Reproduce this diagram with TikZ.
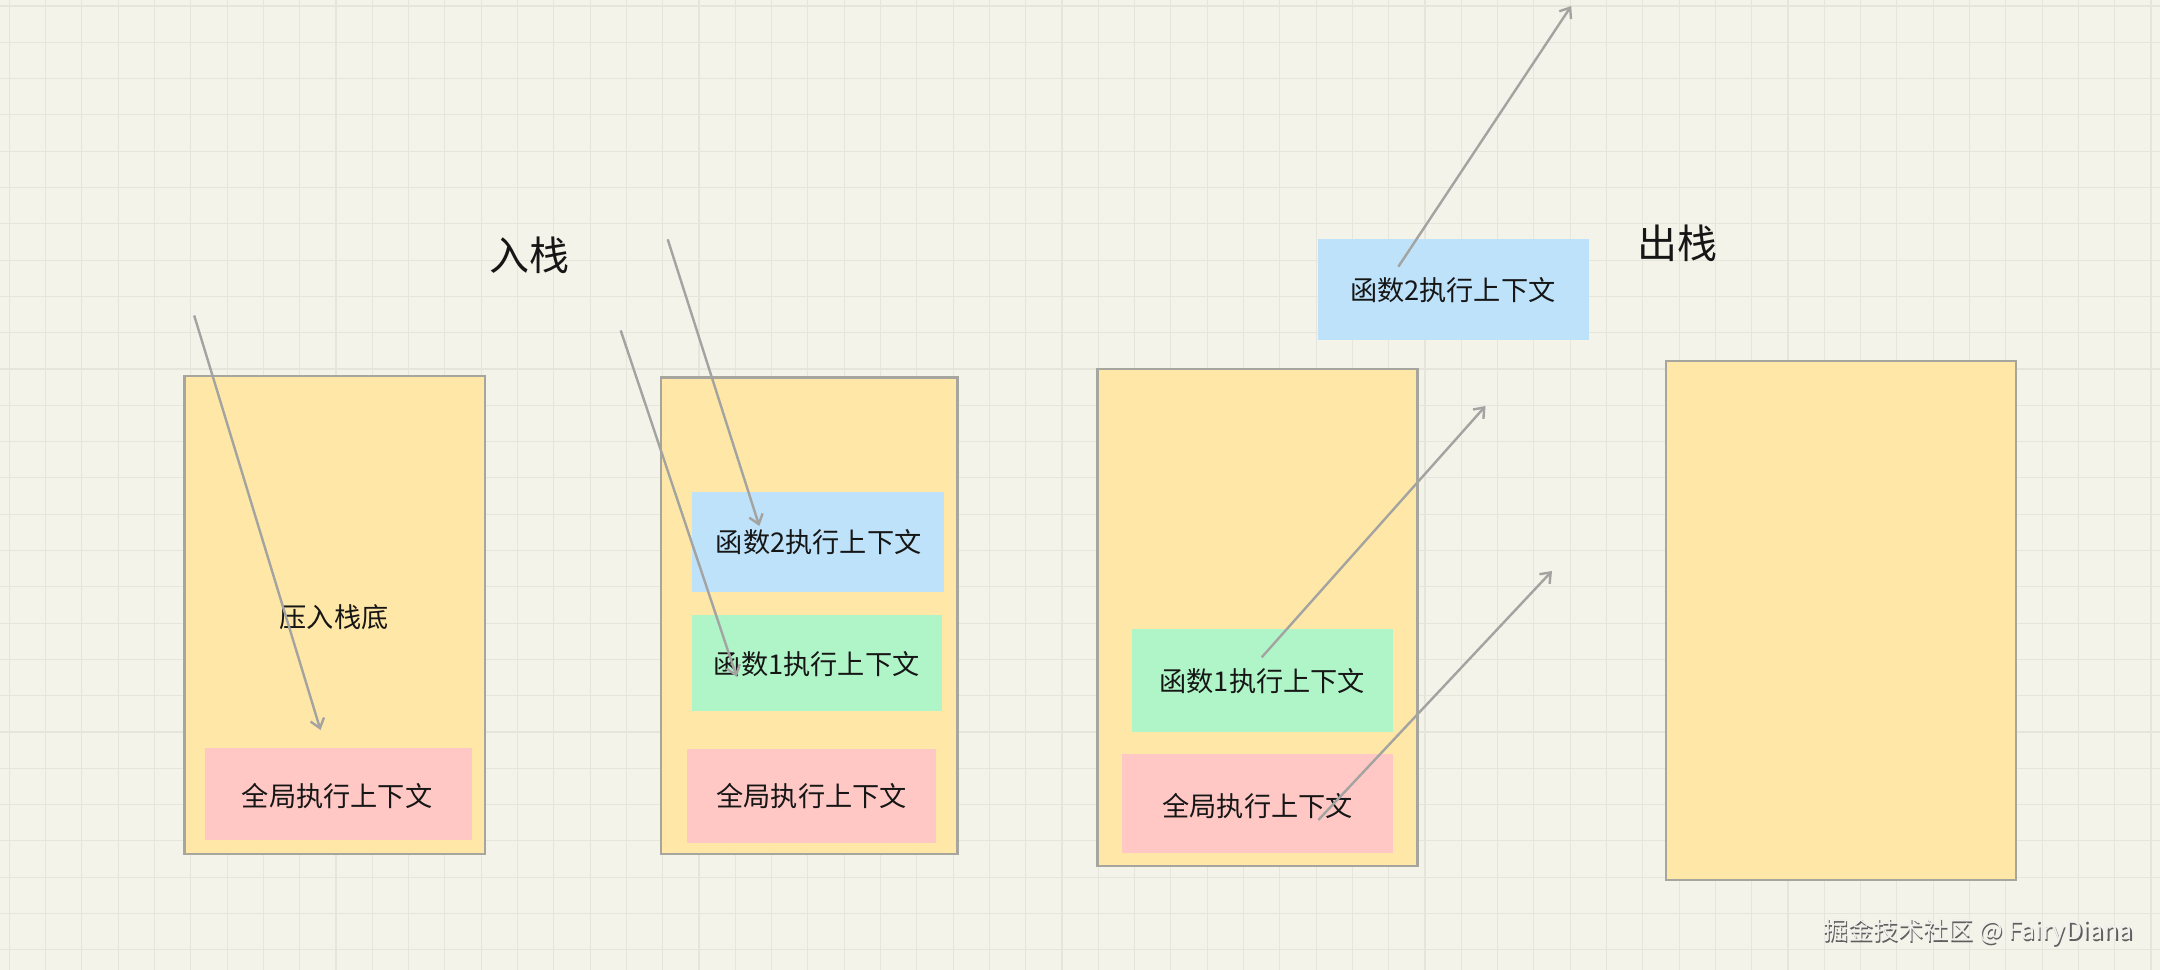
\documentclass[tikz,border=0pt]{standalone}
\usepackage{fontspec}
\setmainfont{Noto Sans CJK SC}
\usetikzlibrary{arrows.meta,fit}
\definecolor{bgc}{RGB}{244,243,233}
\definecolor{gridc}{RGB}{229,229,220}
\definecolor{stackc}{RGB}{255,232,167}
\definecolor{borderc}{RGB}{166,165,158}
\definecolor{pinkc}{RGB}{255,200,196}
\definecolor{bluec}{RGB}{190,226,250}
\definecolor{greenc}{RGB}{176,245,200}
\definecolor{arrowc}{RGB}{163,163,161}
\definecolor{txtc}{RGB}{22,22,22}
\definecolor{wmshadow}{RGB}{95,95,95}
\definecolor{wmfill}{RGB}{240,240,236}
\begin{document}
\begin{tikzpicture}[x=0.5pt,y=-0.5pt,
  gridline/.style={draw=gridc,line width=0.55pt},
  stackbox/.style={fill=stackc,draw=borderc,line width=1.4pt,inner sep=0pt},
  ctxbox/.style={inner sep=0pt,text=txtc,font=\fontsize{13.6pt}{16pt}\selectfont},
  pinkbox/.style={ctxbox,fill=pinkc},
  bluebox/.style={ctxbox,fill=bluec},
  greenbox/.style={ctxbox,fill=greenc},
  plain/.style={text=txtc,inner sep=0pt,font=\fontsize{13.6pt}{16pt}\selectfont},
  title/.style={text=txtc,inner sep=0pt,font=\fontsize{20pt}{24pt}\selectfont},
  wm/.style={inner sep=0pt,font=\fontsize{12.5pt}{15pt}\selectfont},
  pusharrow/.style={draw=arrowc,line width=1.2pt,-{Straight Barb[length=4.5pt,width=7pt]}}
]
\useasboundingbox (0,0) rectangle (2160,970);
\fill[bgc] (0,0) rectangle (2160,970);
\foreach \i in {0,...,59} \draw[gridline] ({9.3+36.3*\i},0) -- ({9.3+36.3*\i},970);
\foreach \j in {0,...,26} \draw[gridline] (0,{6+36.3*\j}) -- (2160,{6+36.3*\j});

% stack 1
\node[stackbox,fit={(184.6,376) (485,854)}] (s1) {};
\node[pinkbox,fit={(205,748) (472,840)}] (g1) {};
\node[plain] (g1t) at (337,796) {全局执行上下文};
\node[plain] (push) at (334,617) {压入栈底};
\node[title] (in) at (529,255) {入栈};

% stack 2
\node[stackbox,fit={(661,377.5) (957.5,854)}] (s2) {};
\node[bluebox,fit={(692.3,492.4) (944.3,591.5)}] (b2) {};
\node[plain] (b2t) at (818.7,542.5) {函数2执行上下文};
\node[greenbox,fit={(692.3,615) (941.7,711)}] (f2) {};
\node[plain] (f2t) at (816.7,664) {函数1执行上下文};
\node[pinkbox,fit={(687.3,749) (935.7,843)}] (g2) {};
\node[plain] (g2t) at (811.7,796) {全局执行上下文};

% stack 3
\node[stackbox,fit={(1097.5,369) (1417.5,866)}] (s3) {};
\node[greenbox,fit={(1131.7,629) (1393.3,731.7)}] (f3) {};
\node[plain] (f3t) at (1262.3,681) {函数1执行上下文};
\node[pinkbox,fit={(1121.7,754) (1393.3,853.3)}] (g3) {};
\node[plain] (g3t) at (1257.7,806) {全局执行上下文};
\node[bluebox,fit={(1318,239.3) (1588.8,340)}] (b3) {};
\node[plain] (b3t) at (1452.8,290) {函数2执行上下文};
\node[title] (out) at (1677,243) {出栈};

% stack 4
\node[stackbox,fit={(1666,361) (2016,880)}] (s4) {};

% arrows
\coordinate (a1s) at (194.2,315.5);
\coordinate (a1e) at (320.5,730);
\coordinate (a2s) at (667.7,239.3);
\coordinate (a2e) at (759.3,526);
\coordinate (a3s) at (620.7,330.4);
\coordinate (a3e) at (736.7,676.8);
\coordinate (a4s) at (1261.7,657.3);
\coordinate (a4e) at (1485.5,406);
\coordinate (a5s) at (1318.3,820);
\coordinate (a5e) at (1552,571);
\coordinate (a6s) at (1398.3,266.7);
\coordinate (a6e) at (1571.2,6);
\draw[pusharrow] (a1s) -- (a1e);
\draw[pusharrow] (a2s) -- (a2e);
\draw[pusharrow] (a3s) -- (a3e);
\draw[pusharrow] (a4s) -- (a4e);
\draw[pusharrow] (a5s) -- (a5e);
\draw[pusharrow] (a6s) -- (a6e);

% watermark
\node[wm,text=wmshadow,anchor=west] (wms) at (1824.5,933.5) {掘金技术社区 @ FairyDiana};
\node[wm,text=wmfill,anchor=west] (wmt) at (1823,932) {掘金技术社区 @ FairyDiana};
\end{tikzpicture}
\end{document}
